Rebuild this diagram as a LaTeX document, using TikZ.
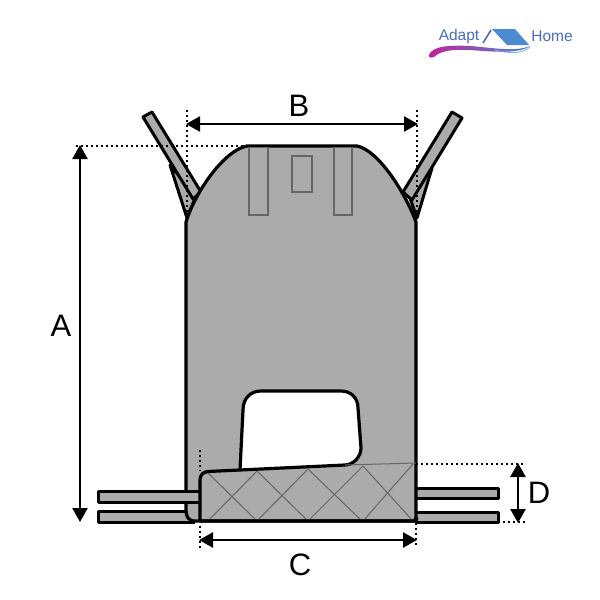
\documentclass[tikz,border=0pt]{standalone}
\usepackage{fontspec}
\setmainfont{Liberation Sans}
\usetikzlibrary{arrows.meta}
\definecolor{fabric}{HTML}{ABABAB}
\definecolor{seam}{HTML}{666666}
\definecolor{logoblue}{HTML}{4A6CC0}
\definecolor{roofblue}{HTML}{4C8BD0}
\definecolor{logomag}{HTML}{C0249A}
\tikzset{
  outline/.style={draw=black,line width=3.2pt,line join=round,fill=fabric},
  strapline/.style={draw=black,line width=3pt,line join=round,fill=fabric},
  slot/.style={draw=seam,line width=1.2pt,fill=fabric},
  quilt/.style={draw=seam,line width=1pt},
  dots/.style={draw=black,line width=2pt,dash pattern=on 2pt off 3pt},
  dimen/.style={draw=black,line width=2.6pt,{Triangle[length=14pt,width=15pt]}-{Triangle[length=14pt,width=15pt]},shorten <=-1pt,shorten >=-1pt},
  dimlabel/.style={font=\fontsize{31}{31}\selectfont,text=black,inner sep=0pt},
  logotext/.style={font=\fontsize{15.5}{16}\selectfont,text=logoblue,inner sep=0pt}
}
\begin{document}
\begin{tikzpicture}[x=1pt,y=-1pt]
\useasboundingbox (0,0) rectangle (600,600);
\fill[white] (0,0) rectangle (600,600);
% logo
\node[logotext] (adapt) at (459,36.5) {Adapt};
\node[logotext] (home) at (552,36) {Home};
\fill[roofblue] (492,29) -- (515,29) -- (529,45) -- (507,45) -- cycle;
\draw[logoblue,line width=1.6pt] (491,30) -- (483,43);
\shade[left color=logomag,right color=roofblue,draw=none]
  (429,55) .. controls (432,46) and (450,45) .. (470,46)
  .. controls (495,48) and (515,52) .. (530,46)
  .. controls (520,54) and (495,52) .. (470,50)
  .. controls (452,49) and (440,51) .. (434,57) .. controls (432,58.5) and (429,58) .. (429,55) -- cycle;
\draw[roofblue!70,line width=0.8pt] (495,50) .. controls (510,54) and (522,54) .. (530,47);
% lower straps behind the body
\draw[strapline] (190,511.5) -- (98,511.5) -- (98,522) -- (195,522);
\draw[strapline] (416,488.5) -- (498,488.5) -- (498,498.5) -- (416,498.5);
\draw[strapline] (416,512.5) -- (498,512.5) -- (498,522) -- (416,522);
% upper straps
\draw[strapline] (170,165) -- (187,218) -- (196,196) -- cycle;
\draw[strapline] (432,168) -- (417,218) -- (410,198) -- cycle;
\draw[strapline] (143,117) -- (152,112) -- (201,192) -- (193,199) -- cycle;
\draw[strapline] (452,112) -- (462,118) -- (412,200) -- (403,192) -- cycle;
% body
\draw[outline] (186,222) .. controls (196,190) and (225,150) .. (247,146)
  -- (357,146) .. controls (378,150) and (405,192) .. (416,222)
  -- (416,521) -- (200,521) -- (195,521) .. controls (188,521) and (186,516) .. (186,510) -- cycle;
% slots
\draw[slot] (249,147.5) rectangle (268,215);
\draw[slot] (292,156) rectangle (312,192);
\draw[slot] (334,147.5) rectangle (352,215);
% leg opening
\draw[outline,fill=white] (240,470) -- (243,410) .. controls (243,398) and (251,391) .. (261,391)
  -- (341,391) .. controls (351,391) and (358,398) .. (358,408)
  -- (361,448) .. controls (361,457) and (353,465) .. (345,465) -- cycle;
% front strap on the body
\draw[strapline] (200,491) -- (98,491) -- (98,502) -- (200,502);
% pad
\draw[quilt] (345,465) -- (416,463);
\draw[quilt] (207,472) -- (257,521) (257,471) -- (308,521)
  (308,469) -- (362,521) (363,466) -- (413,521)
  (257,471) -- (208,521) (308,469) -- (257,521)
  (363,466) -- (308,521) (413,464) -- (363,521);
\draw[black,line width=3.2pt,line join=round] (240,470) -- (208,471.5)
  .. controls (203,472) and (200,475) .. (200,480) -- (200,521) -- (416,521);
\fill[black] (416,519) circle (2.4pt);
% dimension guides
\coordinate (atop) at (80,146); \coordinate (abot) at (80,521);
\coordinate (bl) at (187,124); \coordinate (br) at (417,124);
\coordinate (cl) at (200,540); \coordinate (cr) at (416,540);
\coordinate (dt) at (518,464); \coordinate (db) at (518,522);
\draw[dots] (76,145.5) -- (247,145.5);
\draw[dots] (187,110) -- (187,218);
\draw[dots] (417,110) -- (417,218);
\draw[dots] (200,450) -- (200,471);
\draw[dots] (200,526) -- (200,549);
\draw[dots] (416,523) -- (416,547);
\draw[dots] (416,464) -- (526,464);
\draw[dots] (498,522) -- (526,522);
\draw[dimen] (atop) -- (abot);
\draw[dimen] (bl) -- (br);
\draw[dimen] (cl) -- (cr);
\draw[dimen] (dt) -- (db);
\node[dimlabel] (la) at (61,326) {A};
\node[dimlabel] (lb) at (299,106) {B};
\node[dimlabel] (lc) at (300,565) {C};
\node[dimlabel] (ld) at (539,493) {D};
\end{tikzpicture}
\end{document}
